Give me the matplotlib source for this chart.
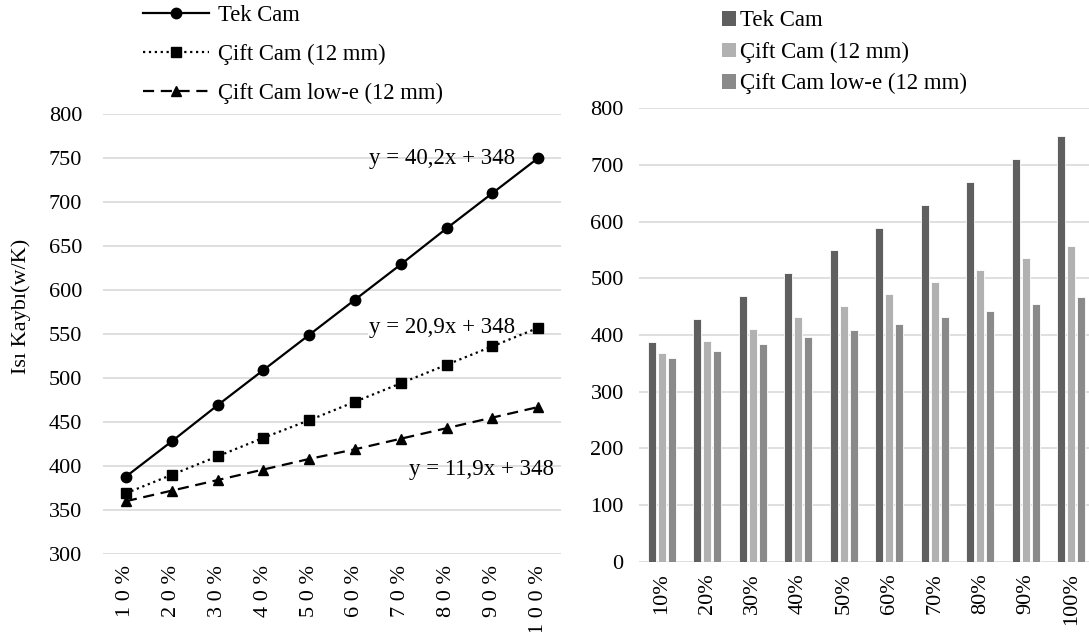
import matplotlib
matplotlib.use("Agg")
import matplotlib.pyplot as plt
from matplotlib.patches import Patch
import numpy as np

plt.rcParams['font.family'] = ['Liberation Serif', 'DejaVu Serif']

categories = ["10%", "20%", "30%", "40%", "50%", "60%", "70%", "80%", "90%", "100%"]
left_tick_labels = ["1 0 %", "2 0 %", "3 0 %", "4 0 %", "5 0 %", "6 0 %", "7 0 %", "8 0 %", "9 0 %", "1 0 0 %"]
series_names = ["Tek Cam", "Çift Cam (12 mm)", "Çift Cam low-e (12 mm)"]
tek_cam = [388, 428, 469, 509, 549, 589, 629, 670, 710, 750]
cift_cam = [369, 390, 411, 432, 452, 473, 494, 515, 536, 557]
cift_lowe = [360, 372, 384, 396, 408, 419, 431, 443, 455, 467]
equations = ["y = 40,2x + 348", "y = 20,9x + 348", "y = 11,9x + 348"]
left_yticks = [300, 350, 400, 450, 500, 550, 600, 650, 700, 750, 800]
right_yticks = [0, 100, 200, 300, 400, 500, 600, 700, 800]

bar_colors = ["#5f5f5f", "#b1b1b1", "#8a8a8a"]
grid_color = "#d9d9d9"
fs = 16

fig = plt.figure(figsize=(10.89, 6.32), dpi=100)

# ---- Left line chart ----
axL = fig.add_axes([0.0946, 0.1234, 0.4206, 0.6962])
x = np.arange(len(categories))
styles = [("-", "o"), (":", "s"), ((0, (5, 3)), "^")]
data = [tek_cam, cift_cam, cift_lowe]
handles = []
for vals, (ls, mk), name in zip(data, styles, series_names):
    ln, = axL.plot(x, vals, linestyle=ls, marker=mk, color="black", linewidth=1.6,
                   markersize=7.5, label=name, zorder=3)
    handles.append(ln)
axL.set_xlim(-0.5, 9.5)
axL.set_ylim(300, 800)
axL.set_yticks(left_yticks)
axL.set_xticks(x)
axL.set_xticklabels(left_tick_labels, rotation=90, fontsize=fs)
axL.tick_params(axis='y', labelsize=fs, length=0, pad=15)
axL.tick_params(axis='x', length=0, pad=8)
axL.grid(axis='y', color=grid_color, linewidth=1.2)
axL.set_axisbelow(True)
for s in axL.spines.values():
    s.set_visible(False)
fig.text(0.0195, 1 - 306 / 632, "Isı Kaybı(w/K)", fontsize=16, rotation=90,
         ha='center', va='center')

axL.text(8.5, 750, equations[0], fontsize=16.5, ha='right', va='center', zorder=2)
axL.text(8.5, 557, equations[1], fontsize=16.5, ha='right', va='center',
         bbox=dict(facecolor='white', edgecolor='none', pad=0.5), zorder=2)
axL.text(9.35, 396, equations[2], fontsize=16.5, ha='right', va='center', zorder=2)

fig.legend(handles=handles, loc='upper left', bbox_to_anchor=(0.123, 1.006),
           frameon=False, fontsize=16.3, handlelength=2.9, handletextpad=0.4,
           labelspacing=0.78, borderaxespad=0)

# ---- Right bar chart ----
axR = fig.add_axes([0.5868, 0.1108, 0.4132, 0.7182])
w = 0.17
off = 0.22
for i, (vals, col, name) in enumerate(zip(data, bar_colors, series_names)):
    axR.bar(x + (i - 1) * off, vals, width=w, color=col, edgecolor='white',
            linewidth=0.6, label=name, zorder=3)
axR.set_xlim(-0.5, 9.39)
axR.set_ylim(0, 800)
axR.set_yticks(right_yticks)
axR.set_xticks(x)
axR.set_xticklabels(categories, rotation=90, fontsize=fs)
axR.tick_params(axis='y', labelsize=fs, length=0, pad=11)
axR.tick_params(axis='x', length=0, pad=8)
axR.grid(axis='y', color=grid_color, linewidth=1.2)
axR.set_axisbelow(True)
for s in axR.spines.values():
    s.set_visible(False)

leg_handles = [Patch(facecolor=c, edgecolor='none') for c in bar_colors]
fig.legend(handles=leg_handles, labels=series_names, loc='upper left',
           bbox_to_anchor=(0.655, 0.998), frameon=False, fontsize=16.5,
           handlelength=0.6, handleheight=0.6, handletextpad=0.15,
           labelspacing=0.45, borderaxespad=0)

fig.savefig("out.png", dpi=100)
